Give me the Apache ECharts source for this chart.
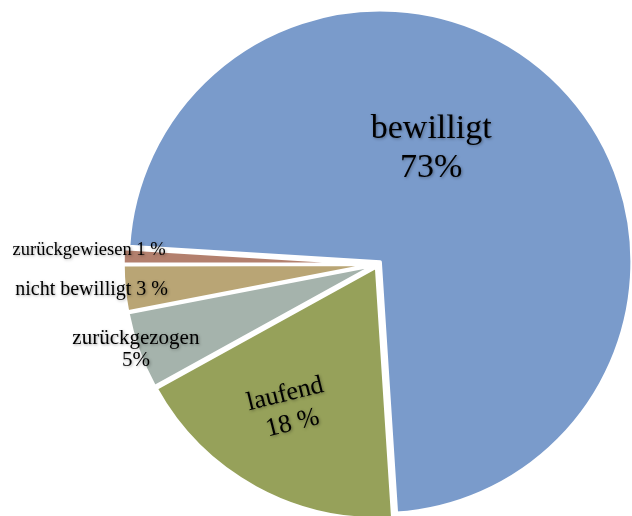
<!DOCTYPE html>
<html>
<head>
<meta charset="utf-8">
<script src="https://cdn.jsdelivr.net/npm/echarts@6/dist/echarts.min.js"></script>
<style>
html,body{margin:0;padding:0;background:#fff;}
#chart{width:632px;height:516px;}
</style>
</head>
<body>
<div id="chart"></div>
<script>
const categories = ['bewilligt', 'laufend', 'zurückgezogen', 'nicht bewilligt', 'zurückgewiesen'];
const values = [73, 18, 5, 3, 1];
const labelTexts = ['bewilligt\n73%', 'laufend\n18 %', 'zurückgezogen\n5%', 'nicht bewilligt 3 %', 'zurückgewiesen 1 %'];

const colors = ['#7A9BCB', '#96A15A', '#A5B3AC', '#B9A575', '#B3806E'];
const labelStyles = [
  { fontSize: 34, lineHeight: 39, rotate: 0 },
  { fontSize: 26, lineHeight: 30, rotate: 14 },
  { fontSize: 21, lineHeight: 22, rotate: 0 },
  { fontSize: 20, lineHeight: 22, rotate: 0 },
  { fontSize: 18.5, lineHeight: 20, rotate: 0 }
];
const labelShift = [[-40, -22], [-32, 22], [-118, 41], [-155, 13], [-157, -10]];

const data = categories.map((name, i) => ({
  name: name,
  value: values[i],
  selected: true,
  itemStyle: { color: colors[i] },
  label: Object.assign({
    show: true,
    position: 'inside',
    formatter: labelTexts[i],
    color: '#000',
    fontFamily: "'Liberation Serif', 'Times New Roman', serif",
    align: 'center',
    textShadowColor: 'rgba(0,0,0,0.35)',
    textShadowBlur: 3,
    textShadowOffsetX: 1,
    textShadowOffsetY: 1
  }, labelStyles[i])
}));

const chart = echarts.init(document.getElementById('chart'), null, { renderer: 'canvas' });
chart.setOption({
  animation: false,
  backgroundColor: '#fff',
  series: [{
    type: 'pie',
    center: [378, 264],
    radius: 252,
    startAngle: 176.5,
    clockwise: true,
    selectedMode: 'multiple',
    selectedOffset: 3,
    avoidLabelOverlap: false,
    labelLine: { show: false },
    labelLayout: function (p) {
      return { dx: labelShift[p.dataIndex][0], dy: labelShift[p.dataIndex][1], hideOverlap: false };
    },
    itemStyle: { borderColor: '#fff', borderWidth: 3.5 },
    emphasis: { disabled: true },
    select: { itemStyle: { borderColor: '#fff', borderWidth: 3.5 } },
    data: data
  }]
});
</script>
</body>
</html>
